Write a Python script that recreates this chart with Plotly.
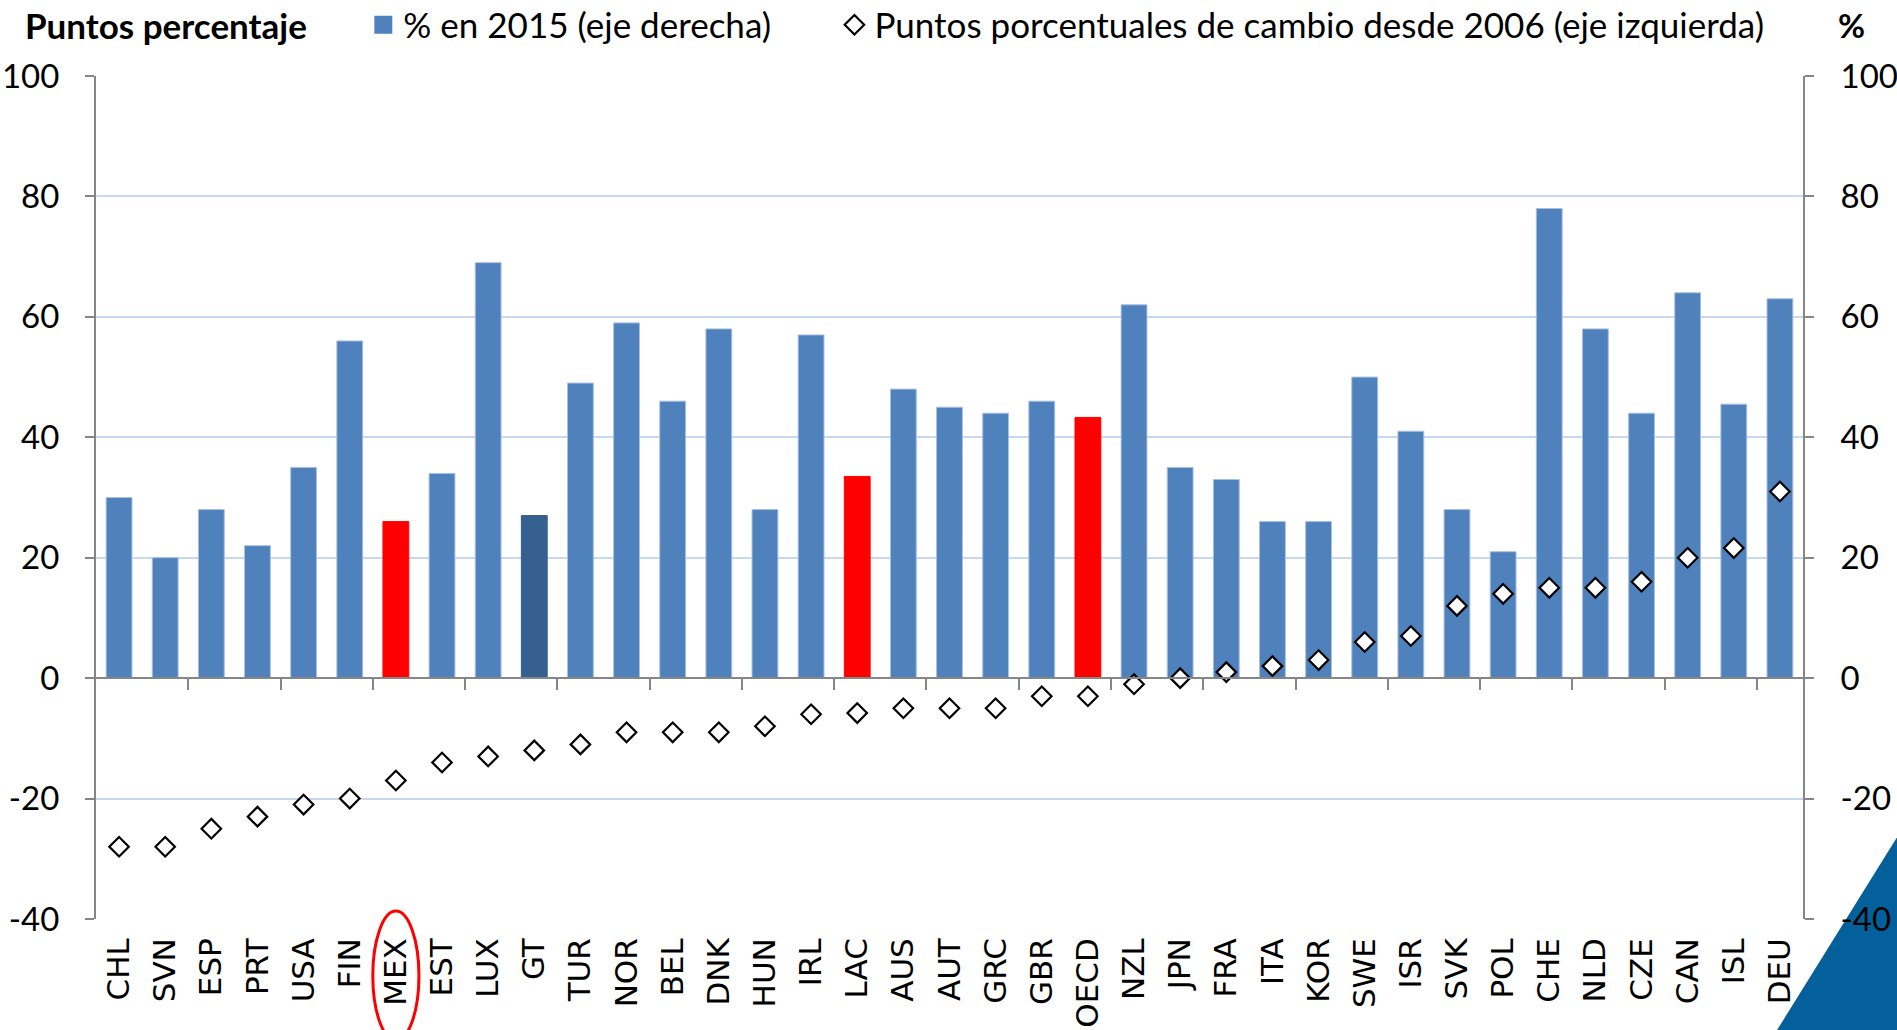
import plotly.graph_objects as go

# ---------------- data ----------------
countries = ["CHL", "SVN", "ESP", "PRT", "USA", "FIN", "MEX", "EST", "LUX", "GT",
             "TUR", "NOR", "BEL", "DNK", "HUN", "IRL", "LAC", "AUS", "AUT", "GRC",
             "GBR", "OECD", "NZL", "JPN", "FRA", "ITA", "KOR", "SWE", "ISR", "SVK",
             "POL", "CHE", "NLD", "CZE", "CAN", "ISL", "DEU"]
pct_2015 = [30, 20, 28, 22, 35, 56, 26, 34, 69, 27,
            49, 59, 46, 58, 28, 57, 33.5, 48, 45, 44,
            46, 43.3, 62, 35, 33, 26, 26, 50, 41, 28,
            21, 78, 58, 44, 64, 45.5, 63]
change_since_2006 = [-28, -28, -25, -23, -21, -20, -17, -14, -13, -12,
                     -11, -9, -9, -9, -8, -6, -5.8, -5, -5, -5,
                     -3, -3, -1, 0, 1, 2, 3, 6, 7, 12,
                     14, 15, 15, 16, 20, 21.6, 31]
y_ticks = [-40, -20, 0, 20, 40, 60, 80, 100]
y_tick_labels = ["-40", "-20", "0", "20", "40", "60", "80", "100"]
red_categories = ["MEX", "LAC", "OECD"]
dark_categories = ["GT"]
circled_category = "MEX"
bar_name = "% en 2015 (eje derecha)"
dot_name = "Puntos porcentuales de cambio desde 2006 (eje izquierda)"

# ---------------- styles ----------------
BLUE = "#4F81BD"
DARK = "#35608F"
RED = "#FF0000"
GRAY = "#868686"
GRID = "#C6D9F1"
y_range = [min(y_ticks), max(y_ticks)]
n = len(countries)

bar_colors = [RED if c in red_categories else DARK if c in dark_categories else BLUE
              for c in countries]
bar_lines = ["#a9c0df" if col == BLUE else col for col in bar_colors]

fig = go.Figure()

fig.add_trace(go.Bar(
    x=countries, y=pct_2015, name=bar_name,
    xaxis="x", yaxis="y", showlegend=False,
    marker=dict(color=bar_colors, line=dict(color=bar_lines, width=1)),
))
# legend entry for the bars (bigger square than plotly's default bar swatch)
fig.add_trace(go.Scatter(
    x=[None], y=[None], mode="markers", name=bar_name,
    xaxis="x", yaxis="y", legend="legend",
    marker=dict(symbol="square", size=16, color=BLUE, line=dict(color=BLUE, width=2)),
    hoverinfo="skip",
))
fig.add_trace(go.Scatter(
    x=countries, y=change_since_2006, mode="markers", name=dot_name,
    xaxis="x", yaxis="y2", legend="legend2",
    marker=dict(symbol="diamond", size=15, color="white",
                line=dict(color="black", width=2.2)),
))
# invisible helper trace so that the zero-line axis (x2) is drawn
fig.add_trace(go.Scatter(
    x=[0], y=[0], xaxis="x2", yaxis="y", mode="markers",
    marker=dict(opacity=0), showlegend=False, hoverinfo="skip",
))

zero_pos = (0 - y_range[0]) / (y_range[1] - y_range[0])

yaxis_common = dict(
    range=y_range, tickmode="array", tickvals=y_ticks, ticktext=y_tick_labels,
    ticks="outside", ticklen=9, tickwidth=2, tickcolor=GRAY,
    showline=True, linecolor=GRAY, linewidth=2,
    zeroline=False, automargin=False,
    tickfont=dict(family="Lato", size=33, color="black"),
)
legend_common = dict(
    orientation="h", y=1.0605, xanchor="left", yanchor="middle",
    font=dict(family="Lato", size=35, color="black"),
    bgcolor="rgba(0,0,0,0)",
)

fig.update_layout(
    width=1897, height=1030,
    margin=dict(l=96, r=94, t=76, b=111, autoexpand=False),
    paper_bgcolor="white", plot_bgcolor="white",
    bargap=0.44,
    font=dict(family="Lato", color="black"),
    xaxis=dict(
        type="category", categoryorder="array", categoryarray=countries,
        range=[-0.5, n - 0.5], automargin=False,
        anchor="y", tickangle=-90, ticks="", showline=False, showgrid=False,
        tickfont=dict(family="DejaVu Sans", size=31, color="black"),
        ticklabelstandoff=12,
    ),
    xaxis2=dict(
        overlaying="x", anchor="free", position=zero_pos, side="bottom",
        range=[-0.5, n - 0.5], tickmode="array",
        tickvals=[i + 0.5 for i in range(1, n - 1, 2)],
        ticks="outside", ticklen=11, tickwidth=2, tickcolor=GRAY,
        showline=True, linecolor=GRAY, linewidth=2, automargin=False,
        showticklabels=False, showgrid=False, zeroline=False,
    ),
    yaxis=dict(side="right", showgrid=True, gridcolor=GRID, gridwidth=2,
               ticklabelstandoff=20, **yaxis_common),
    yaxis2=dict(side="left", overlaying="y", showgrid=False,
                ticklabelstandoff=19, **yaxis_common),
    legend=dict(x=0.1566, **legend_common),
    legend2=dict(x=0.4326, **legend_common),
    showlegend=True,
)

fig.add_annotation(text="<b>Puntos percentaje</b>", xref="paper", yref="paper",
                   x=-0.0425, y=1.0605, xanchor="left", yanchor="middle",
                   showarrow=False, font=dict(family="Lato", size=35, color="black"))
fig.add_annotation(text="<b>%</b>", xref="paper", yref="paper",
                   x=1.0284, y=1.0605, xanchor="center", yanchor="middle",
                   showarrow=False, font=dict(family="Lato", size=33, color="black"))

# red ellipse around MEX label
mi = countries.index(circled_category)
fig.add_shape(type="circle", xref="x", yref="paper",
              x0=mi - 0.5, x1=mi + 0.5, y0=-0.144, y1=0.0095,
              line=dict(color=RED, width=3), layer="above")

# decorative blue corner triangle
fig.add_shape(type="path", xref="paper", yref="paper",
              path="M 1.0553 0.0976 L 0.9848 -0.1317 L 1.06 -0.1317 L 1.06 0.0976 Z",
              fillcolor="#03609A", line=dict(width=0), layer="below")

fig.write_html("out.html", config={"displayModeBar": False},
               post_script="document.body.style.margin='0';document.body.style.overflow='hidden';")
